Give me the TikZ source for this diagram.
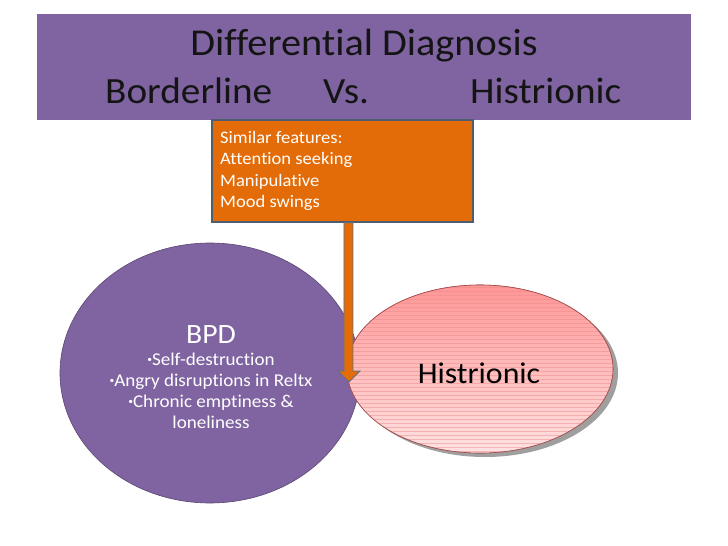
\documentclass[tikz,border=0pt]{standalone}
\usepackage{fontspec}
\setmainfont[Ligatures={NoCommon},FakeStretch=1.06]{Carlito}
\usetikzlibrary{shapes.geometric,calc}
\definecolor{slidepurple}{HTML}{8064A2}
\definecolor{slideorange}{HTML}{E36C09}
\definecolor{boxborder}{HTML}{4F5D70}
\definecolor{arrowborder}{HTML}{5A6F8C}
\definecolor{pinktop}{HTML}{FF9696}
\definecolor{pinkbot}{HTML}{FFE2E2}
\definecolor{pinkline}{HTML}{E88C8C}
\definecolor{pinkborder}{HTML}{A04848}
\tikzset{
  titlebox/.style={rectangle, fill=slidepurple, draw=none, minimum width=654pt, minimum height=106pt, inner sep=0pt},
  titletext/.style={font=\fontsize{37}{43}\selectfont, text=black!92, inner sep=0pt},
  simbox/.style={rectangle, fill=slideorange, draw=boxborder, line width=1.2pt, minimum width=261pt, minimum height=102pt, inner sep=0pt},
  simtext/.style={anchor=base west, text=white, font=\fontsize{17.5}{21}\selectfont, inner sep=0pt},
  bpd/.style={ellipse, fill=slidepurple, draw=slidepurple!70!black, line width=0.6pt, minimum width=300pt, minimum height=260pt, inner sep=0pt},
  bpdline/.style={anchor=base, text=white, font=\fontsize{18}{21}\selectfont, inner sep=0pt},
  hist/.style={ellipse, draw=pinkborder, line width=0.6pt, minimum width=266pt, minimum height=168pt, inner sep=0pt},
  bigarrow/.style={fill=slideorange, draw=arrowborder, line width=0.8pt, line join=miter}
}
\newcommand{\smallbul}{\raisebox{0.25ex}{\fontsize{9}{9}\selectfont\textbullet}}
\begin{document}
\begin{tikzpicture}[x=1pt,y=-1pt]
\useasboundingbox (0,0) rectangle (728,546);
\fill[white] (0,0) rectangle (728,546);
% title
\node[titlebox] (title) at (364,67) {};
\node[titletext, anchor=base, font=\fontsize{38}{43}\selectfont] (t1) at (364,55) {Differential Diagnosis};
\node[titletext, anchor=base west] (t2a) at (105,103) {Borderline};
\node[titletext, anchor=base west] (t2b) at (323,103) {Vs.};
\node[titletext, anchor=base west] (t2c) at (470,103) {Histrionic};
% BPD ellipse
\node[bpd] (bpd) at (210,373) {};
\node[bpdline, font=\fontsize{28}{32}\selectfont] (bpd0) at (211,343) {BPD};
\node[bpdline] (bpd1) at (211,365) {\smallbul Self-destruction};
\node[bpdline] (bpd2) at (211,386) {\smallbul Angry disruptions in Reltx};
\node[bpdline] (bpd3) at (211,407) {\smallbul Chronic emptiness \&};
\node[bpdline] (bpd4) at (211,428) {loneliness};
% Histrionic ellipse with shadow
\fill[gray!75] (485,373) ellipse (133pt and 84pt);
\node[hist] (hist) at (480,369) {};
\begin{scope}
  \clip (480,369) ellipse (133pt and 84pt);
  \shade[top color=pinktop, bottom color=pinkbot] (347,285) rectangle (613,453);
  \foreach \yy in {287,291,...,453} {\draw[pinkline, line width=0.35pt, opacity=0.5] (347,\yy) -- (613,\yy);}
\end{scope}
\draw[pinkborder, line width=0.6pt] (hist.center) ellipse (133pt and 84pt);
\node[anchor=base, font=\fontsize{30}{36}\selectfont, text=black, inner sep=0pt] (histtext) at (479,383) {Histrionic};
% orange box
\node[simbox] (sim) at (342.5,171) {};
\node[simtext] (s1) at (220,143) {Similar features:};
\node[simtext] (s2) at (220,164.5) {Attention seeking};
\node[simtext] (s3) at (220,186) {Manipulative};
\node[simtext] (s4) at (220,207.5) {Mood swings};
% arrow
\coordinate (atop) at ($(sim.south west)+(137,0)$);
\coordinate (tip) at (349,382);
\path[bigarrow] ($(atop)+(-4.5,0)$) -- ($(tip -| atop)+(-4.5,-11)$) -- ($(tip)+(-11,-11)$) -- (tip) -- ($(tip)+(11,-11)$) -- ($(tip -| atop)+(4.5,-11)$) -- ($(atop)+(4.5,0)$) -- cycle;
\end{tikzpicture}
\end{document}
